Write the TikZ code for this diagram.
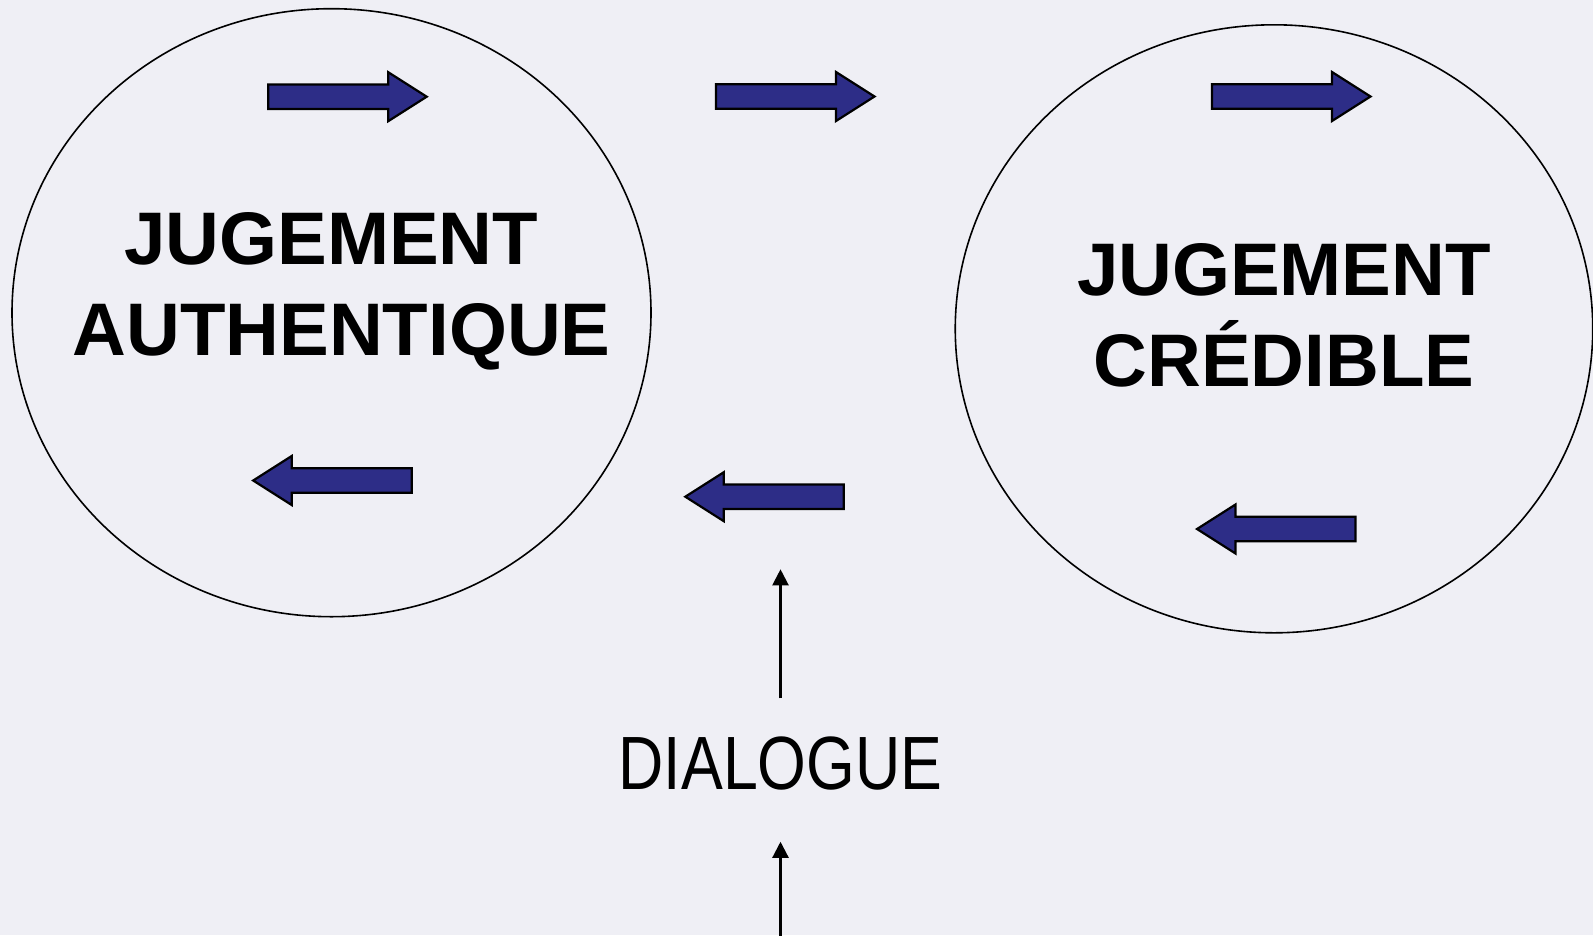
\documentclass[tikz,border=0pt]{standalone}
\usepackage{fontspec}
\setmainfont{Liberation Sans}
\newfontfamily\narrowfont[FakeStretch=0.83]{Liberation Sans}
\usetikzlibrary{shapes.geometric,arrows.meta}
\definecolor{bgc}{RGB}{239,239,245}
\definecolor{navy}{RGB}{45,45,135}
\tikzset{
  oval/.style={ellipse, draw=black, line width=1.6pt, inner sep=0pt},
  title/.style={font=\fontsize{74.5}{91}\selectfont\bfseries, align=center, inner sep=0pt, anchor=north},
  blockarrow/.pic={\draw[fill=navy, draw=black, line width=2.2pt, line join=miter]
     (-80,-12.3) -- (40,-12.3) -- (40,-24.5) -- (78.5,0) -- (40,24.5) -- (40,12.3) -- (-80,12.3) -- cycle;},
  thinarrow/.style={line width=2.2pt, -{Triangle[width=16pt,length=16pt]}},
}
\begin{document}
\begin{tikzpicture}[x=1pt,y=-1pt]
\useasboundingbox (0,0) rectangle (1593,935);
\fill[bgc] (0,0) rectangle (1593,935);
% ellipses
\node[oval, minimum width=639pt, minimum height=608pt] (left) at (331.5,312.7) {};
\node[oval, minimum width=637.5pt, minimum height=608pt] (right) at (1274,328.8) {};
% titles
\node[title] (ltext) at (341.6,204) {\rule{0pt}{60pt}JUGEMENT\kern0.278em\\AUTHENTIQUE};
\node[title] (rtext) at (1284,235) {\rule{0pt}{60pt}JUGEMENT\\CRÉDIBLE};
% block arrows
\pic (a1) at (348.2,96.7) {blockarrow};
\pic (a2) at (796,96.5) {blockarrow};
\pic (a3) at (1292,96.5) {blockarrow};
\pic[rotate=180] (b1) at (331.7,480.5) {blockarrow};
\pic[rotate=180] (b2) at (763.8,496.7) {blockarrow};
\pic[rotate=180] (b3) at (1275.5,529) {blockarrow};
% dialogue
\node[font=\narrowfont\fontsize{75.5}{90}\selectfont, inner sep=0pt, anchor=base] (dlg) at (780.5,789.3) {DIALOGUE};
\coordinate (uptip) at (780,569.3);
\coordinate (botstart) at (780,940);
\draw[thinarrow] ([yshift=38pt]dlg.north) -- (dlg.north |- uptip);
\draw[thinarrow] (dlg.south |- botstart) -- ([yshift=-51.5pt]dlg.south);
\end{tikzpicture}
\end{document}
